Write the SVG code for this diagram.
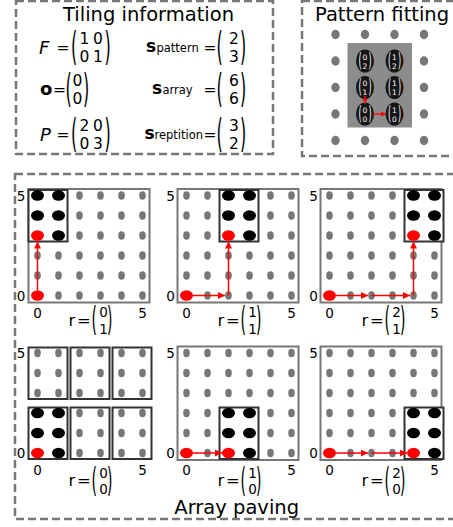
<svg xmlns="http://www.w3.org/2000/svg" width="453" height="527" viewBox="0 0 453 527">
<defs>
<style>
text{font-family:"DejaVu Sans","Liberation Sans",sans-serif;fill:#000}
.box{fill:none;stroke:#777;stroke-width:2.5;stroke-dasharray:8 4}
.title{font-size:19.5px}
.it{font-style:italic;font-size:18px}
.bd{font-weight:bold;font-size:17px}
.eq{font-size:15.5px}
.num{font-size:15.5px;text-anchor:middle}
.par{font-size:16px}
.sub{font-size:11.5px}
.gd{fill:#777}
.bk{fill:#000}
.rd{fill:#f00}
.frame{fill:none;stroke:#777;stroke-width:2}
.pat{fill:#fff;stroke:#333;stroke-width:2}
.tile{fill:none;stroke:#333;stroke-width:2}
.ax{font-size:13.5px;text-anchor:middle}
.rl{font-size:16.5px}
.rn{font-size:13.5px;text-anchor:middle}
.rp{font-size:14px}
.arr{stroke:#f00;stroke-width:1.5;fill:none;marker-end:url(#ah)}
.arrs{stroke:#f00;stroke-width:1.2;fill:none;marker-end:url(#ahs)}
.pe{fill:#151515}
text.pw{fill:#fff;font-size:8px}
text.pn{fill:#fff;font-size:7.5px;text-anchor:middle}
</style>
<marker id="ah" viewBox="0 0 10 10" refX="10" refY="5" markerUnits="userSpaceOnUse" markerWidth="8" markerHeight="7" orient="auto"><path d="M0,0L10,5L0,10z" fill="#f00"/></marker>
<marker id="ahs" viewBox="0 0 10 10" refX="10" refY="5" markerUnits="userSpaceOnUse" markerWidth="5" markerHeight="5" orient="auto"><path d="M0,0L10,5L0,10z" fill="#f00"/></marker>
<g id="row">
<ellipse class="gd" cx="0" cy="0" rx="3.3" ry="4.2"/><ellipse class="gd" cx="21" cy="0" rx="3.3" ry="4.2"/><ellipse class="gd" cx="42" cy="0" rx="3.3" ry="4.2"/><ellipse class="gd" cx="63" cy="0" rx="3.3" ry="4.2"/><ellipse class="gd" cx="84" cy="0" rx="3.3" ry="4.2"/><ellipse class="gd" cx="105" cy="0" rx="3.3" ry="4.2"/>
</g>
<g id="grid">
<use href="#row" y="0"/><use href="#row" y="-20"/><use href="#row" y="-40"/><use href="#row" y="-60"/><use href="#row" y="-80"/><use href="#row" y="-100"/>
</g>
<g id="prow">
<ellipse class="gd" cx="0" cy="0" rx="4.2" ry="4.7"/><ellipse class="gd" cx="29.5" cy="0" rx="4.2" ry="4.7"/><ellipse class="gd" cx="59" cy="0" rx="4.2" ry="4.7"/><ellipse class="gd" cx="88.5" cy="0" rx="4.2" ry="4.7"/>
</g>
</defs>

<g id="tiling-information">
<rect class="box" x="16" y="1" width="257" height="153"/>
<text class="title" x="63" y="21">Tiling information</text>
<!-- F -->
<text class="it" x="39" y="53.5">F</text>
<text class="eq" x="56.5" y="53">=</text>
<text class="par" transform="translate(71,59.5) scale(1,2.48)">(</text>
<text class="num" x="84.5" y="44.2">1</text><text class="num" x="98" y="44.2">0</text>
<text class="num" x="84.5" y="62.3">0</text><text class="num" x="98" y="62.3">1</text>
<text class="par" transform="translate(104.5,59.5) scale(1,2.48)">)</text>
<!-- o -->
<text class="bd" x="40" y="94.5" style="font-size:18px">o</text>
<text class="eq" x="53" y="95">=</text>
<text class="par" transform="translate(65.5,101.5) scale(1,2.48)">(</text>
<text class="num" x="77.5" y="86.2">0</text>
<text class="num" x="77.5" y="104.3">0</text>
<text class="par" transform="translate(83,101.5) scale(1,2.48)">)</text>
<!-- P -->
<text class="it" x="40" y="140.5">P</text>
<text class="eq" x="56.5" y="140">=</text>
<text class="par" transform="translate(71,146.5) scale(1,2.48)">(</text>
<text class="num" x="84.5" y="131.2">2</text><text class="num" x="98" y="131.2">0</text>
<text class="num" x="84.5" y="149.3">0</text><text class="num" x="98" y="149.3">3</text>
<text class="par" transform="translate(104.5,146.5) scale(1,2.48)">)</text>
<!-- s pattern -->
<text class="bd" x="146" y="51.5">s</text><text class="sub" x="156.5" y="51.5">pattern</text>
<text class="eq" x="203.5" y="53">=</text>
<text class="par" transform="translate(216.5,59.5) scale(1,2.48)">(</text>
<text class="num" x="234" y="44.2">2</text>
<text class="num" x="234" y="62.3">3</text>
<text class="par" transform="translate(240,59.5) scale(1,2.48)">)</text>
<!-- s array -->
<text class="bd" x="152" y="93.5">s</text><text class="sub" x="162.5" y="93.5">array</text>
<text class="eq" x="203.5" y="95">=</text>
<text class="par" transform="translate(216.5,101.5) scale(1,2.48)">(</text>
<text class="num" x="234" y="86.2">6</text>
<text class="num" x="234" y="104.3">6</text>
<text class="par" transform="translate(240,101.5) scale(1,2.48)">)</text>
<!-- s reptition -->
<text class="bd" x="144.5" y="138.5">s</text><text class="sub" x="154.5" y="138.5">reptition</text>
<text class="eq" x="203.5" y="140">=</text>
<text class="par" transform="translate(216.5,146.5) scale(1,2.48)">(</text>
<text class="num" x="234" y="131.2">3</text>
<text class="num" x="234" y="149.3">2</text>
<text class="par" transform="translate(240,146.5) scale(1,2.48)">)</text>
</g>

<g id="pattern-fitting">
<rect class="box" x="302" y="1" width="170" height="155"/>
<text class="title" x="315" y="21">Pattern fitting</text>
<use href="#prow" x="335.5" y="34.5"/>
<use href="#prow" x="335.5" y="61"/>
<use href="#prow" x="335.5" y="87.5"/>
<use href="#prow" x="335.5" y="114"/>
<use href="#prow" x="335.5" y="140.5"/>
<rect x="347.5" y="43" width="64.5" height="84.5" fill="#8c8c8c"/>
<g id="pf-0-2"><ellipse class="pe" cx="365" cy="61" rx="9" ry="11.5"/><text class="pw" transform="translate(358.5,66.5) scale(1,2.4)">(</text><text class="pn" x="365" y="59.5">0</text><text class="pn" x="365" y="68.5">2</text><text class="pw" transform="translate(368.5,66.5) scale(1,2.4)">)</text></g>
<g id="pf-1-2"><ellipse class="pe" cx="394.5" cy="61" rx="9" ry="11.5"/><text class="pw" transform="translate(388,66.5) scale(1,2.4)">(</text><text class="pn" x="394.5" y="59.5">1</text><text class="pn" x="394.5" y="68.5">2</text><text class="pw" transform="translate(398,66.5) scale(1,2.4)">)</text></g>
<g id="pf-0-1"><ellipse class="pe" cx="365" cy="87.5" rx="9" ry="11.5"/><text class="pw" transform="translate(358.5,93) scale(1,2.4)">(</text><text class="pn" x="365" y="86">0</text><text class="pn" x="365" y="95">1</text><text class="pw" transform="translate(368.5,93) scale(1,2.4)">)</text></g>
<g id="pf-1-1"><ellipse class="pe" cx="394.5" cy="87.5" rx="9" ry="11.5"/><text class="pw" transform="translate(388,93) scale(1,2.4)">(</text><text class="pn" x="394.5" y="86">1</text><text class="pn" x="394.5" y="95">1</text><text class="pw" transform="translate(398,93) scale(1,2.4)">)</text></g>
<g id="pf-0-0"><ellipse class="pe" cx="365" cy="114" rx="9" ry="11.5"/><text class="pw" transform="translate(358.5,119.5) scale(1,2.4)">(</text><text class="pn" x="365" y="112.5">0</text><text class="pn" x="365" y="121.5">0</text><text class="pw" transform="translate(368.5,119.5) scale(1,2.4)">)</text></g>
<g id="pf-1-0"><ellipse class="pe" cx="394.5" cy="114" rx="9" ry="11.5"/><text class="pw" transform="translate(388,119.5) scale(1,2.4)">(</text><text class="pn" x="394.5" y="112.5">1</text><text class="pn" x="394.5" y="121.5">0</text><text class="pw" transform="translate(398,119.5) scale(1,2.4)">)</text></g>
</g>

<g id="array-paving">
<rect class="box" x="15" y="174" width="450" height="345"/>
<text class="title" x="236.7" y="514" text-anchor="middle">Array paving</text>
</g>

<g id="panel-r01">
<use href="#grid" x="37.5" y="295.5"/>
<rect class="frame" x="28.5" y="189" width="121" height="113.5"/>
<rect class="pat" x="28.5" y="190" width="39" height="51.5"/>
<ellipse class="bk" cx="37.5" cy="195.5" rx="6.5" ry="5.2"/><ellipse class="bk" cx="58.5" cy="195.5" rx="6.5" ry="5.2"/>
<ellipse class="bk" cx="37.5" cy="215.5" rx="6.5" ry="5.2"/><ellipse class="bk" cx="58.5" cy="215.5" rx="6.5" ry="5.2"/>
<ellipse class="rd" cx="37.5" cy="235.5" rx="6.5" ry="5.2"/><ellipse class="bk" cx="58.5" cy="235.5" rx="6.5" ry="5.2"/>
<ellipse class="rd" cx="37.5" cy="295.5" rx="6.5" ry="5.2"/>
<text class="ax" x="21" y="200.5">5</text><text class="ax" x="21" y="300.5">0</text>
<text class="ax" x="37.5" y="317.5">0</text><text class="ax" x="142.5" y="317.5">5</text>
<text class="rl" x="68.5" y="326">r</text><text class="rl" x="77" y="326">=</text>
<text class="rp" transform="translate(91.5,331.3) scale(1,2.38)">(</text>
<text class="rn" x="103.5" y="317">0</text><text class="rn" x="103.5" y="333.5">1</text>
<text class="rp" transform="translate(107,331.3) scale(1,2.38)">)</text>
</g>

<g id="panel-r11">
<use href="#grid" x="186.5" y="295.5"/>
<rect class="frame" x="177.5" y="189" width="121" height="113.5"/>
<rect class="pat" x="219.5" y="190" width="39" height="51.5"/>
<ellipse class="bk" cx="228.5" cy="195.5" rx="6.5" ry="5.2"/><ellipse class="bk" cx="249.5" cy="195.5" rx="6.5" ry="5.2"/>
<ellipse class="bk" cx="228.5" cy="215.5" rx="6.5" ry="5.2"/><ellipse class="bk" cx="249.5" cy="215.5" rx="6.5" ry="5.2"/>
<ellipse class="rd" cx="228.5" cy="235.5" rx="6.5" ry="5.2"/><ellipse class="bk" cx="249.5" cy="235.5" rx="6.5" ry="5.2"/>
<ellipse class="rd" cx="186.5" cy="295.5" rx="6.5" ry="5.2"/>
<text class="ax" x="170.5" y="200.5">5</text><text class="ax" x="170.5" y="300.5">0</text>
<text class="ax" x="186.5" y="317.5">0</text><text class="ax" x="291.5" y="317.5">5</text>
<text class="rl" x="217.5" y="326">r</text><text class="rl" x="226" y="326">=</text>
<text class="rp" transform="translate(240.5,331.3) scale(1,2.38)">(</text>
<text class="rn" x="252.5" y="317">1</text><text class="rn" x="252.5" y="333.5">1</text>
<text class="rp" transform="translate(256,331.3) scale(1,2.38)">)</text>
</g>

<g id="panel-r21">
<use href="#grid" x="329.5" y="295.5"/>
<rect class="frame" x="320.5" y="189" width="121" height="113.5"/>
<rect class="pat" x="404.5" y="190" width="39" height="51.5"/>
<ellipse class="bk" cx="413.5" cy="195.5" rx="6.5" ry="5.2"/><ellipse class="bk" cx="434.5" cy="195.5" rx="6.5" ry="5.2"/>
<ellipse class="bk" cx="413.5" cy="215.5" rx="6.5" ry="5.2"/><ellipse class="bk" cx="434.5" cy="215.5" rx="6.5" ry="5.2"/>
<ellipse class="rd" cx="413.5" cy="235.5" rx="6.5" ry="5.2"/><ellipse class="bk" cx="434.5" cy="235.5" rx="6.5" ry="5.2"/>
<ellipse class="rd" cx="329.5" cy="295.5" rx="6.5" ry="5.2"/>
<text class="ax" x="313.5" y="200.5">5</text><text class="ax" x="313.5" y="300.5">0</text>
<text class="ax" x="329.5" y="317.5">0</text><text class="ax" x="434.5" y="317.5">5</text>
<text class="rl" x="361.5" y="326">r</text><text class="rl" x="370" y="326">=</text>
<text class="rp" transform="translate(384.5,331.3) scale(1,2.38)">(</text>
<text class="rn" x="396.5" y="317">2</text><text class="rn" x="396.5" y="333.5">1</text>
<text class="rp" transform="translate(400,331.3) scale(1,2.38)">)</text>
</g>

<g id="panel-r00">
<use href="#grid" x="37.5" y="453"/>
<rect class="tile" x="28.5" y="347.5" width="39" height="51.5"/>
<rect class="tile" x="70.5" y="347.5" width="39" height="51.5"/>
<rect class="tile" x="112.5" y="347.5" width="39" height="51.5"/>
<rect class="tile" x="28.5" y="407.5" width="39" height="51.5"/>
<rect class="tile" x="70.5" y="407.5" width="39" height="51.5"/>
<rect class="tile" x="112.5" y="407.5" width="39" height="51.5"/>
<ellipse class="bk" cx="37.5" cy="413" rx="6.5" ry="5.2"/><ellipse class="bk" cx="58.5" cy="413" rx="6.5" ry="5.2"/>
<ellipse class="bk" cx="37.5" cy="433" rx="6.5" ry="5.2"/><ellipse class="bk" cx="58.5" cy="433" rx="6.5" ry="5.2"/>
<ellipse class="rd" cx="37.5" cy="453" rx="6.5" ry="5.2"/><ellipse class="bk" cx="58.5" cy="453" rx="6.5" ry="5.2"/>
<text class="ax" x="21" y="357.5">5</text><text class="ax" x="21" y="457.5">0</text>
<text class="ax" x="37.5" y="475">0</text><text class="ax" x="142.5" y="475">5</text>
<text class="rl" x="68.5" y="486">r</text><text class="rl" x="77" y="486">=</text>
<text class="rp" transform="translate(91.5,491.8) scale(1,2.38)">(</text>
<text class="rn" x="103.5" y="478">0</text><text class="rn" x="103.5" y="494">0</text>
<text class="rp" transform="translate(107,491.8) scale(1,2.38)">)</text>
</g>

<g id="panel-r10">
<use href="#grid" x="186.5" y="453"/>
<rect class="frame" x="177.5" y="346.5" width="121" height="113.5"/>
<rect class="pat" x="219.5" y="407.5" width="39" height="51.5"/>
<ellipse class="bk" cx="228.5" cy="413" rx="6.5" ry="5.2"/><ellipse class="bk" cx="249.5" cy="413" rx="6.5" ry="5.2"/>
<ellipse class="bk" cx="228.5" cy="433" rx="6.5" ry="5.2"/><ellipse class="bk" cx="249.5" cy="433" rx="6.5" ry="5.2"/>
<ellipse class="rd" cx="228.5" cy="453" rx="6.5" ry="5.2"/><ellipse class="bk" cx="249.5" cy="453" rx="6.5" ry="5.2"/>
<ellipse class="rd" cx="186.5" cy="453" rx="6.5" ry="5.2"/>
<text class="ax" x="170.5" y="357.5">5</text><text class="ax" x="170.5" y="457.5">0</text>
<text class="ax" x="186.5" y="475">0</text><text class="ax" x="291.5" y="475">5</text>
<text class="rl" x="217.5" y="486">r</text><text class="rl" x="226" y="486">=</text>
<text class="rp" transform="translate(240.5,491.8) scale(1,2.38)">(</text>
<text class="rn" x="252.5" y="478">1</text><text class="rn" x="252.5" y="494">0</text>
<text class="rp" transform="translate(256,491.8) scale(1,2.38)">)</text>
</g>

<g id="panel-r20">
<use href="#grid" x="329.5" y="453"/>
<rect class="frame" x="320.5" y="346.5" width="121" height="113.5"/>
<rect class="pat" x="404.5" y="407.5" width="39" height="51.5"/>
<ellipse class="bk" cx="413.5" cy="413" rx="6.5" ry="5.2"/><ellipse class="bk" cx="434.5" cy="413" rx="6.5" ry="5.2"/>
<ellipse class="bk" cx="413.5" cy="433" rx="6.5" ry="5.2"/><ellipse class="bk" cx="434.5" cy="433" rx="6.5" ry="5.2"/>
<ellipse class="rd" cx="413.5" cy="453" rx="6.5" ry="5.2"/><ellipse class="bk" cx="434.5" cy="453" rx="6.5" ry="5.2"/>
<ellipse class="rd" cx="329.5" cy="453" rx="6.5" ry="5.2"/>
<text class="ax" x="313.5" y="357.5">5</text><text class="ax" x="313.5" y="457.5">0</text>
<text class="ax" x="329.5" y="475">0</text><text class="ax" x="434.5" y="475">5</text>
<text class="rl" x="361.5" y="486">r</text><text class="rl" x="370" y="486">=</text>
<text class="rp" transform="translate(384.5,491.8) scale(1,2.38)">(</text>
<text class="rn" x="396.5" y="478">2</text><text class="rn" x="396.5" y="494">0</text>
<text class="rp" transform="translate(400,491.8) scale(1,2.38)">)</text>
</g>

<g id="connectors">
<line class="arrs" x1="365" y1="104" x2="365" y2="96"/>
<line class="arrs" x1="372.5" y1="114" x2="386" y2="114"/>
<line class="arr" x1="37.5" y1="290" x2="37.5" y2="241.5"/>
<line class="arr" x1="193" y1="295.5" x2="225" y2="295.5"/>
<line class="arr" x1="228.5" y1="295.5" x2="228.5" y2="241.5"/>
<line class="arr" x1="336" y1="295.5" x2="368" y2="295.5"/>
<line class="arr" x1="371.5" y1="295.5" x2="410" y2="295.5"/>
<line class="arr" x1="413.5" y1="295.5" x2="413.5" y2="241.5"/>
<line class="arr" x1="193" y1="453" x2="222" y2="453"/>
<line class="arr" x1="336" y1="453" x2="368" y2="453"/>
<line class="arr" x1="371.5" y1="453" x2="407" y2="453"/>
</g>
</svg>
